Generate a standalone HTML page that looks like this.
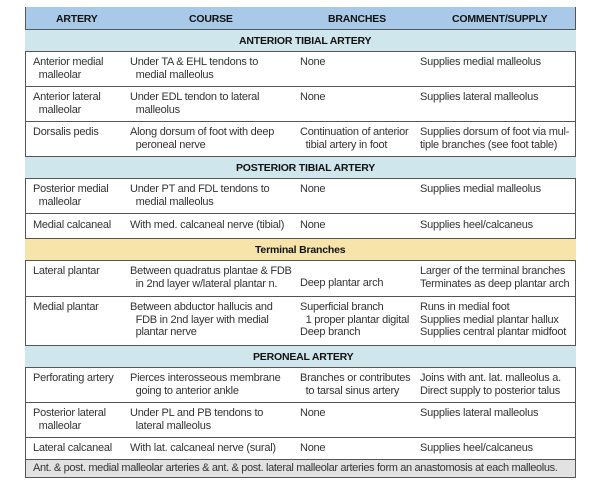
<!DOCTYPE html><html><head><style>
body{margin:0;width:600px;height:481px;background:#fff;position:relative;font-family:"Liberation Sans",sans-serif;overflow:hidden}
.r{position:absolute;left:25px;width:551px;border-top:1px solid #555;box-sizing:border-box}
.t{position:absolute;font-size:11px;letter-spacing:-0.25px;line-height:12.5px;color:#333;white-space:pre}
.h{position:absolute;font-size:10.5px;font-weight:bold;color:#111;white-space:pre;letter-spacing:-0.2px}
</style></head><body>
<div style="position:absolute;left:25px;top:7px;width:551px;height:471px;border:1.5px solid #555;box-sizing:border-box"></div>
<div class="r" style="top:7px;height:22px;background:#a9c9e9;border-top:none;left:26px;width:549px"></div>
<div class="r" style="top:29px;height:22px;background:#cfe6ec"></div>
<div class="r" style="top:51px;height:35px"></div>
<div class="r" style="top:86px;height:35px"></div>
<div class="r" style="top:121px;height:35px"></div>
<div class="r" style="top:156px;height:22px;background:#cfe6ec"></div>
<div class="r" style="top:178px;height:35px"></div>
<div class="r" style="top:213px;height:25px"></div>
<div class="r" style="top:238px;height:22px;background:#f6e4aa"></div>
<div class="r" style="top:260px;height:36px"></div>
<div class="r" style="top:296px;height:49px"></div>
<div class="r" style="top:345px;height:22px;background:#cfe6ec"></div>
<div class="r" style="top:367px;height:35px"></div>
<div class="r" style="top:402px;height:35px"></div>
<div class="r" style="top:437px;height:22px"></div>
<div class="r" style="top:459px;height:18px;background:#e2e2e2;left:26px;width:549px"></div>

<div class="h" style="left:56px;top:13px">ARTERY</div>
<div class="h" style="left:189px;top:13px">COURSE</div>
<div class="h" style="left:328px;top:13px">BRANCHES</div>
<div class="h" style="left:452px;top:13px">COMMENT/SUPPLY</div>
<div class="h" style="left:239px;top:35px">ANTERIOR TIBIAL ARTERY</div>
<div class="h" style="left:236px;top:162px">POSTERIOR TIBIAL ARTERY</div>
<div class="h" style="left:255px;top:244px">Terminal Branches</div>
<div class="h" style="left:253px;top:351px">PERONEAL ARTERY</div>

<div class="t" style="left:33px;top:56px">Anterior medial
  malleolar</div>
<div class="t" style="left:130px;top:56px">Under TA &amp; EHL tendons to
  medial malleolus</div>
<div class="t" style="left:300px;top:56px">None</div>
<div class="t" style="left:420px;top:56px">Supplies medial malleolus</div>

<div class="t" style="left:33px;top:91px">Anterior lateral
  malleolar</div>
<div class="t" style="left:130px;top:91px">Under EDL tendon to lateral
  malleolus</div>
<div class="t" style="left:300px;top:91px">None</div>
<div class="t" style="left:420px;top:91px">Supplies lateral malleolus</div>

<div class="t" style="left:33px;top:126px">Dorsalis pedis</div>
<div class="t" style="left:130px;top:126px">Along dorsum of foot with deep
  peroneal nerve</div>
<div class="t" style="left:300px;top:126px">Continuation of anterior
  tibial artery in foot</div>
<div class="t" style="left:420px;top:126px">Supplies dorsum of foot via mul-
tiple branches (see foot table)</div>

<div class="t" style="left:33px;top:183px">Posterior medial
  malleolar</div>
<div class="t" style="left:130px;top:183px">Under PT and FDL tendons to
  medial malleolus</div>
<div class="t" style="left:300px;top:183px">None</div>
<div class="t" style="left:420px;top:183px">Supplies medial malleolus</div>

<div class="t" style="left:33px;top:219px">Medial calcaneal</div>
<div class="t" style="left:130px;top:219px">With med. calcaneal nerve (tibial)</div>
<div class="t" style="left:300px;top:219px">None</div>
<div class="t" style="left:420px;top:219px">Supplies heel/calcaneus</div>

<div class="t" style="left:33px;top:265px">Lateral plantar</div>
<div class="t" style="left:130px;top:265px">Between quadratus plantae &amp; FDB
  in 2nd layer w/lateral plantar n.</div>
<div class="t" style="left:300px;top:277px">Deep plantar arch</div>
<div class="t" style="left:420px;top:265px">Larger of the terminal branches
Terminates as deep plantar arch</div>

<div class="t" style="left:33px;top:301px">Medial plantar</div>
<div class="t" style="left:130px;top:301px">Between abductor hallucis and
  FDB in 2nd layer with medial
  plantar nerve</div>
<div class="t" style="left:300px;top:301px">Superficial branch
  1 proper plantar digital
Deep branch</div>
<div class="t" style="left:420px;top:301px">Runs in medial foot
Supplies medial plantar hallux
Supplies central plantar midfoot</div>

<div class="t" style="left:33px;top:372px">Perforating artery</div>
<div class="t" style="left:130px;top:372px">Pierces interosseous membrane
  going to anterior ankle</div>
<div class="t" style="left:300px;top:372px">Branches or contributes
  to tarsal sinus artery</div>
<div class="t" style="left:420px;top:372px">Joins with ant. lat. malleolus a.
Direct supply to posterior talus</div>

<div class="t" style="left:33px;top:407px">Posterior lateral
  malleolar</div>
<div class="t" style="left:130px;top:407px">Under PL and PB tendons to
  lateral malleolus</div>
<div class="t" style="left:300px;top:407px">None</div>
<div class="t" style="left:420px;top:407px">Supplies lateral malleolus</div>

<div class="t" style="left:33px;top:442px">Lateral calcaneal</div>
<div class="t" style="left:130px;top:442px">With lat. calcaneal nerve (sural)</div>
<div class="t" style="left:300px;top:442px">None</div>
<div class="t" style="left:420px;top:442px">Supplies heel/calcaneus</div>

<div class="t" style="left:33px;top:462px;letter-spacing:-0.35px">Ant. &amp; post. medial malleolar arteries &amp; ant. &amp; post. lateral malleolar arteries form an anastomosis at each malleolus.</div>
</body></html>
